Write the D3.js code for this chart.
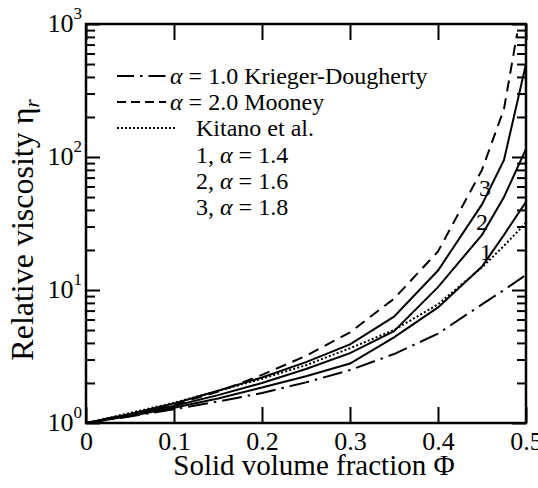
<!DOCTYPE html>
<html>
<head>
<meta charset="utf-8">
<script src="https://cdn.jsdelivr.net/npm/d3@7"></script>
<style>
  body { margin: 0; background: #fff; }
  text { font-family: "Liberation Serif", "Times New Roman", serif; fill: #000; }
</style>
</head>
<body>
<svg id="chart" width="538" height="488"></svg>
<script>
// solid volume fraction grid
const phi = [0, 0.05, 0.1, 0.15, 0.2, 0.25, 0.3, 0.35, 0.4, 0.45, 0.475, 0.5];
const phiMooney = [0, 0.05, 0.1, 0.15, 0.2, 0.25, 0.3, 0.35, 0.4, 0.45, 0.475, 0.49];

// relative viscosity
const etaKrieger = [1, 1.12, 1.27, 1.45, 1.68, 2.02, 2.5, 3.3, 4.7, 7.8, 10, 13];
const etaMooney  = [1, 1.16, 1.37, 1.72, 2.3, 3.2, 4.8, 8.6, 19.5, 80, 230, 850];
const etaKitano  = [1, 1.19, 1.42, 1.74, 2.15, 2.72, 3.65, 5.0, 7.8, 14.8, 21.5, 32];
const eta14 = [1, 1.13, 1.30, 1.53, 1.85, 2.25, 2.8, 4.4, 7.4, 15, 26, 46];
const eta16 = [1, 1.15, 1.34, 1.62, 2.0, 2.55, 3.35, 4.9, 10.5, 26, 50, 115];
const eta18 = [1, 1.17, 1.40, 1.75, 2.2, 2.87, 3.9, 6.3, 14, 44, 95, 500];

const legendNames = ['Krieger-Dougherty', 'Mooney', 'Kitano et al.'];
const legendAlpha = ['1.0', '2.0', null];
const curveAlpha = ['1.4', '1.6', '1.8'];
// curve number tags, placed in data units
const tagText = ['1', '2', '3'];
const tagPhi = [0.4545, 0.45, 0.4534];
const tagEta = [19.3, 32.5, 58.5];

const xTicks = [0, 0.1, 0.2, 0.3, 0.4, 0.5];
const yMajor = [1, 10, 100, 1000];
const yExp = ['0', '1', '2', '3'];

const plotL = 86, plotR = 526, plotT = 24, plotB = 423;

const svg = d3.select('#chart');

const x = d3.scaleLinear().domain([0, 0.5]).range([plotL, plotR]);
const y = d3.scaleLog().domain([1, 1000]).range([plotB, plotT]);
const yMinor = y.ticks().filter(v => !yMajor.includes(v));

svg.append('defs').append('clipPath').attr('id', 'plot-clip')
  .append('rect')
  .attr('x', plotL).attr('y', plotT)
  .attr('width', plotR - plotL).attr('height', plotB - plotT);

// ticks, all pointing into the frame
const tickStyle = g => {
  g.select('.domain').remove();
  g.selectAll('.tick line').attr('stroke', '#000').attr('stroke-width', 2);
};

svg.append('g')
  .attr('transform', `translate(0,${plotB})`)
  .call(d3.axisBottom(x).tickValues(xTicks).tickSizeInner(-16).tickSizeOuter(0)
    .tickPadding(9).tickFormat(d => d === 0 ? '0' : d3.format('.1f')(d)))
  .call(tickStyle)
  .call(g => g.selectAll('.tick text')
    .style('font-family', '"Liberation Serif", serif').style('font-size', '26px'));

svg.append('g')
  .attr('transform', `translate(0,${plotT})`)
  .call(d3.axisTop(x).tickValues(xTicks).tickSizeInner(-16).tickSizeOuter(0).tickFormat(''))
  .call(tickStyle);

svg.append('g')
  .attr('transform', `translate(${plotL},0)`)
  .call(d3.axisLeft(y).tickValues(yMajor).tickSizeInner(-14).tickSizeOuter(0).tickPadding(4).tickFormat(''))
  .call(tickStyle)
  .call(g => {
    const t = g.selectAll('.tick text')
      .style('font-family', '"Liberation Serif", serif').style('font-size', '26px')
      .attr('dy', '0.28em');
    t.append('tspan').text('10');
    t.append('tspan').text((d, i) => yExp[i])
      .style('font-size', '17px').attr('dy', '-0.75em');
  });

svg.append('g')
  .attr('transform', `translate(${plotL},0)`)
  .call(d3.axisLeft(y).tickValues(yMinor).tickSizeInner(-9).tickSizeOuter(0).tickFormat(''))
  .call(tickStyle);

svg.append('g')
  .attr('transform', `translate(${plotR},0)`)
  .call(d3.axisRight(y).tickValues(yMajor).tickSizeInner(-14).tickSizeOuter(0).tickFormat(''))
  .call(tickStyle);

svg.append('g')
  .attr('transform', `translate(${plotR},0)`)
  .call(d3.axisRight(y).tickValues(yMinor).tickSizeInner(-9).tickSizeOuter(0).tickFormat(''))
  .call(tickStyle);

svg.append('rect')
  .attr('x', plotL).attr('y', plotT)
  .attr('width', plotR - plotL).attr('height', plotB - plotT)
  .attr('fill', 'none').attr('stroke', '#000').attr('stroke-width', 2.5);

// curves
const series = [
  { xs: phi, ys: etaKrieger, dash: '20,6,2.5,6' },
  { xs: phiMooney, ys: etaMooney, dash: '11,7' },
  { xs: phi, ys: etaKitano, dash: '2,2.2' },
  { xs: phi, ys: eta14, dash: null },
  { xs: phi, ys: eta16, dash: null },
  { xs: phi, ys: eta18, dash: null }
];

const line = d3.line().x(d => x(d[0])).y(d => y(d[1]));

svg.append('g').attr('clip-path', 'url(#plot-clip)')
  .selectAll('path')
  .data(series)
  .join('path')
  .attr('d', s => line(s.xs.map((v, i) => [v, s.ys[i]])))
  .attr('fill', 'none')
  .attr('stroke', '#000')
  .attr('stroke-width', 2)
  .attr('stroke-dasharray', s => s.dash);

svg.append('g')
  .selectAll('text')
  .data(tagText)
  .join('text')
  .attr('x', (d, i) => x(tagPhi[i]))
  .attr('y', (d, i) => y(tagEta[i]))
  .attr('text-anchor', 'middle')
  .attr('dy', '0.35em')
  .style('font-size', '24px')
  .text(d => d);

// legend
const legendRowY = [76, 102, 128, 155, 181, 207];
const lg = svg.append('g');

series.slice(0, 3).forEach((s, i) => {
  lg.append('line')
    .attr('x1', 117).attr('x2', i === 2 ? 175 : 166)
    .attr('y1', legendRowY[i]).attr('y2', legendRowY[i])
    .attr('stroke', '#000').attr('stroke-width', 2)
    .attr('stroke-dasharray', i === 0 ? '17,6,2.5,6' : i === 1 ? '9,5' : '2,2');
});

legendNames.forEach((name, i) => {
  const t = lg.append('text')
    .attr('x', legendAlpha[i] ? 170 : 196)
    .attr('y', legendRowY[i]).attr('dy', '0.35em')
    .style('font-size', '24px');
  if (legendAlpha[i]) {
    t.append('tspan').style('font-style', 'italic').text('α');
    t.append('tspan').text(` = ${legendAlpha[i]} `);
  }
  t.append('tspan').text(name);
});

curveAlpha.forEach((a, i) => {
  const t = lg.append('text')
    .attr('x', 196)
    .attr('y', legendRowY[i + 3]).attr('dy', '0.35em')
    .style('font-size', '24px');
  t.append('tspan').text(`${i + 1}, `);
  t.append('tspan').style('font-style', 'italic').text('α');
  t.append('tspan').text(` = ${a}`);
});

// axis titles
svg.append('text')
  .attr('x', (plotL + plotR) / 2 + 8).attr('y', 475)
  .attr('text-anchor', 'middle')
  .style('font-size', '29px')
  .text('Solid volume fraction Φ');

const yt = svg.append('text')
  .attr('transform', 'translate(33,230) rotate(-90)')
  .attr('text-anchor', 'middle')
  .style('font-size', '32px');
yt.append('tspan').text('Relative viscosity η');
yt.append('tspan').text('r').style('font-style', 'italic')
  .style('font-size', '21px').attr('dy', '0.3em');
</script>
</body>
</html>
